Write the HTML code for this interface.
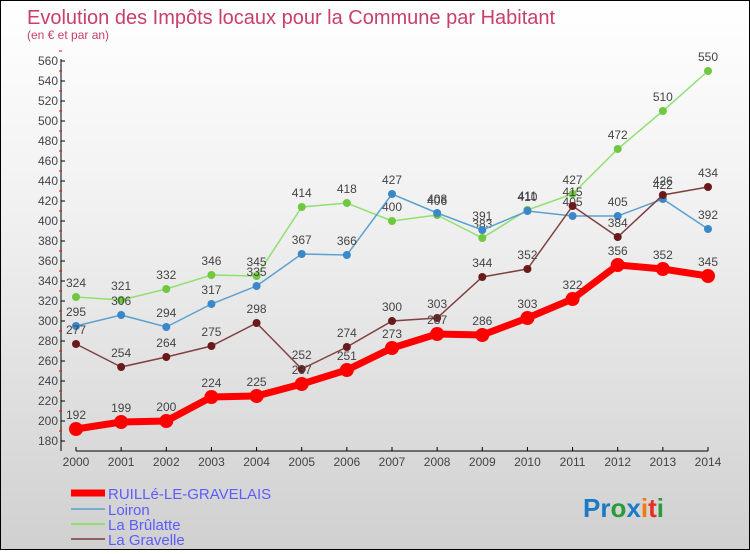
<!DOCTYPE html>
<html><head><meta charset="utf-8"><style>
body{margin:0}
#c{width:748px;height:548px;border:1px solid #000;background:linear-gradient(#fff,#f0f0f0 40%,#d0d0d0);position:relative;font-family:"Liberation Sans",sans-serif}
</style></head><body>
<div id="c">
<svg width="748" height="548" id="svg">
<text x="26" y="23" font-size="20" fill="#c8406a">Evolution des Impôts locaux pour la Commune par Habitant</text>
<text x="26" y="38" font-size="12" fill="#c8406a">(en € et par an)</text>
<g id="axes"></g><g id="series"></g>
<g>
<line x1="70" y1="492" x2="104" y2="492" stroke="#f00" stroke-width="7"/>
<text x="107" y="498" font-size="15" fill="#5c5cff">RUILLé-LE-GRAVELAIS</text>
<line x1="70" y1="508" x2="104" y2="508" stroke="#7aaed0" stroke-width="2"/>
<text x="107" y="514" font-size="15" fill="#5c5cff">Loiron</text>
<line x1="70" y1="523" x2="104" y2="523" stroke="#90e070" stroke-width="2"/>
<text x="107" y="529" font-size="15" fill="#5c5cff">La Brûlatte</text>
<line x1="70" y1="538" x2="104" y2="538" stroke="#906060" stroke-width="2"/>
<text x="107" y="544" font-size="15" fill="#5c5cff">La Gravelle</text>
</g>
<text x="582" y="516" font-size="26" font-weight="bold"><tspan fill="#1a7ac8">Pr</tspan><tspan fill="#2a9a3a">o</tspan><tspan fill="#1a7ac8">x</tspan><tspan fill="#f07a10">i</tspan><tspan fill="#e83020">t</tspan><tspan fill="#2a9a3a">i</tspan></text>
</svg>
</div>
<script>
const years=[2000,2001,2002,2003,2004,2005,2006,2007,2008,2009,2010,2011,2012,2013,2014];
const ruille=[192,199,200,224,225,237,251,273,287,286,303,322,356,352,345];
const loiron=[295,306,294,317,335,367,366,427,408,391,410,405,405,422,392];
const brulatte=[324,321,332,346,345,414,418,400,406,383,411,427,472,510,550];
const gravelle=[277,254,264,275,298,252,274,300,303,344,352,415,384,426,434];
const yTicks=[180,200,220,240,260,280,300,320,340,360,380,400,420,440,460,480,500,520,540,560];
const NS="http://www.w3.org/2000/svg";
const X=i=>75+i*(707-75)/14, Y=v=>440-(v-180);
function mk(t,a,p){const e=document.createElementNS(NS,t);for(const k in a)e.setAttribute(k,a[k]);p.appendChild(e);return e;}
const ax=document.getElementById('axes');
let l=mk('line',{x1:60,y1:58,x2:60,y2:450,stroke:'#000'},ax);


l=mk('line',{x1:75,y1:450,x2:707,y2:450,stroke:'#000'},ax);


yTicks.forEach(v=>{mk('line',{x1:60,y1:Y(v),x2:64,y2:Y(v),stroke:'#000'},ax);
mk('line',{x1:58,y1:Y(v)-10,x2:61,y2:Y(v)-10,stroke:'#f00'},ax);
const t=mk('text',{x:57,y:Y(v)+4,'text-anchor':'end','font-size':12,fill:'#444'},ax);t.textContent=v;

});
years.forEach((y,i)=>{mk('line',{x1:X(i),y1:446,x2:X(i),y2:450,stroke:'#000'},ax);
const t=mk('text',{x:X(i),y:465,'text-anchor':'middle','font-size':12,fill:'#444'},ax);t.textContent=y;

});
const sg=document.getElementById('series');
function draw(d,name,col,dot,w,r){const g=mk('g',{},sg);


mk('polyline',{points:d.map((v,i)=>X(i)+','+Y(v)).join(' '),fill:'none',stroke:col,'stroke-width':w},g);
d.forEach((v,i)=>{const c=mk('circle',{cx:X(i),cy:Y(v),r:r,fill:dot},g);


const t=mk('text',{x:X(i),y:Y(v)-10,'text-anchor':'middle','font-size':12,fill:'#444'},g);t.textContent=v;});}
draw(brulatte,'series-brulatte','#90e070','#70c840',1.5,4);
draw(loiron,'series-loiron','#5aa0d0','#3a88c8',1.5,4);
draw(gravelle,'series-gravelle','#804040','#6a1a1a',1.5,4);
draw(ruille,'series-ruille','#f00','#f00',7,7);
</script>
</body></html>
